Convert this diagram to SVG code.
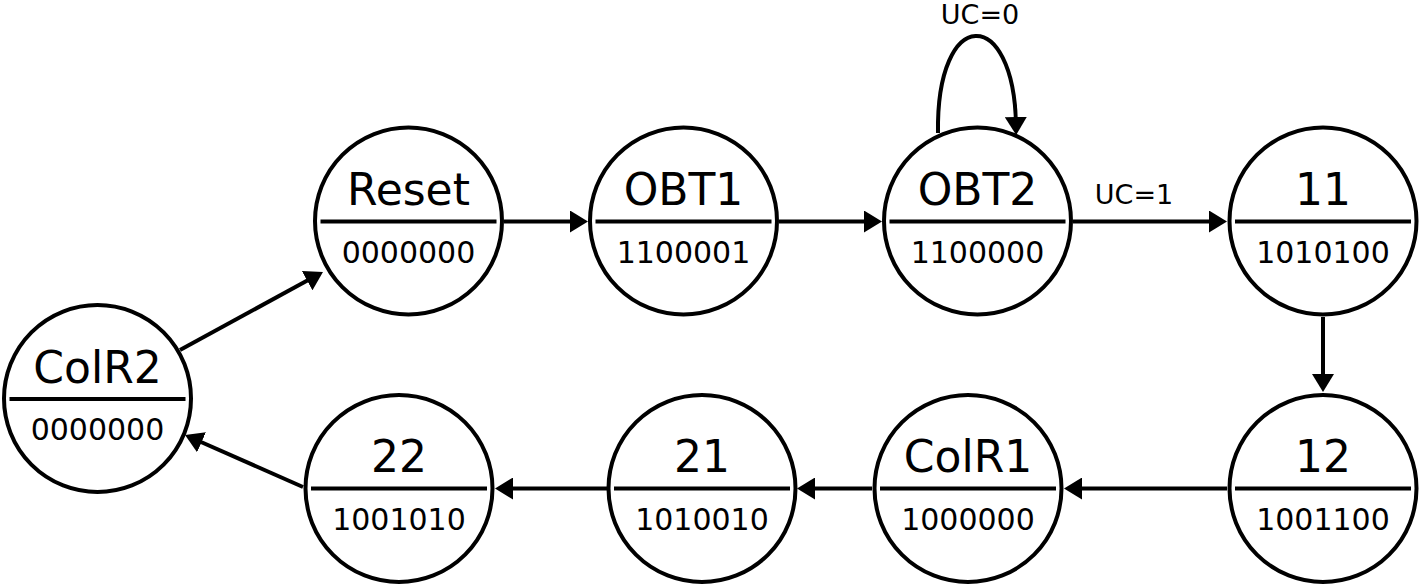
<svg xmlns="http://www.w3.org/2000/svg" width="1421" height="585" viewBox="0 0 1421 585">
<style>
.c{fill:#fff;stroke:#000;stroke-width:4}
.d{stroke:#000;stroke-width:4}
.t{font-family:"DejaVu Sans",sans-serif;font-size:44px;text-anchor:middle;fill:#000}
.n{font-family:"DejaVu Sans",sans-serif;font-size:30px;text-anchor:middle;fill:#000}
.l{font-family:"DejaVu Sans",sans-serif;font-size:27px;text-anchor:middle;fill:#000}
.e{fill:none;stroke:#000;stroke-width:4;marker-end:url(#a)}
</style>
<defs>
<marker id="a" markerUnits="userSpaceOnUse" markerWidth="18" markerHeight="22" refX="8" refY="11" orient="auto" viewBox="0 0 18 22">
<path d="M0,0 L18,11 L0,22 z" fill="#000"/>
</marker>
</defs>
<g id="connectors">
<path class="e" d="M504,221.5 L578,221.5"/>
<path class="e" d="M779,221.5 L872,221.5"/>
<path class="e" d="M1073,221.5 L1217,221.5"/>
<path class="e" d="M938,133 C936,5 1014,5 1016,125"/>
<path class="e" d="M1323,317 L1323,382"/>
<path class="e" d="M1227,488.5 L1074,488.5"/>
<path class="e" d="M872,488.5 L807,488.5"/>
<path class="e" d="M607,488.5 L505,488.5"/>
<path class="e" d="M303,487 L194.2,439"/>
<path class="e" d="M180,350 L314.2,276.8"/>
<text class="l" x="980" y="23.5">UC=0</text>
<text class="l" x="1134" y="204">UC=1</text>
</g>
<g id="ColR2">
<circle class="c" cx="97.5" cy="398.5" r="93.5"/>
<line class="d" x1="9.5" y1="399" x2="185.5" y2="399"/>
<text class="t" x="97.5" y="383">ColR2</text>
<text class="n" x="97.5" y="440">0000000</text>
</g>
<g id="Reset">
<circle class="c" cx="408.5" cy="221" r="93.5"/>
<line class="d" x1="320.5" y1="221.5" x2="496.5" y2="221.5"/>
<text class="t" x="408.5" y="205">Reset</text>
<text class="n" x="408.5" y="263">0000000</text>
</g>
<g id="OBT1">
<circle class="c" cx="683.5" cy="221" r="93.5"/>
<line class="d" x1="595.5" y1="221.5" x2="771.5" y2="221.5"/>
<text class="t" x="683.5" y="205">OBT1</text>
<text class="n" x="683.5" y="263">1100001</text>
</g>
<g id="OBT2">
<circle class="c" cx="977.5" cy="221" r="93.5"/>
<line class="d" x1="889.5" y1="221.5" x2="1065.5" y2="221.5"/>
<text class="t" x="977.5" y="205">OBT2</text>
<text class="n" x="977.5" y="263">1100000</text>
</g>
<g id="s11">
<circle class="c" cx="1323" cy="221" r="93.5"/>
<line class="d" x1="1235" y1="221.5" x2="1411" y2="221.5"/>
<text class="t" x="1323" y="205">11</text>
<text class="n" x="1323" y="263">1010100</text>
</g>
<g id="s12">
<circle class="c" cx="1323" cy="488.5" r="93.5"/>
<line class="d" x1="1235" y1="488.5" x2="1411" y2="488.5"/>
<text class="t" x="1323" y="472">12</text>
<text class="n" x="1323" y="530">1001100</text>
</g>
<g id="ColR1">
<circle class="c" cx="968" cy="488.5" r="93.5"/>
<line class="d" x1="880" y1="488.5" x2="1056" y2="488.5"/>
<text class="t" x="968" y="472">ColR1</text>
<text class="n" x="968" y="530">1000000</text>
</g>
<g id="s21">
<circle class="c" cx="702" cy="488.5" r="93.5"/>
<line class="d" x1="614" y1="488.5" x2="790" y2="488.5"/>
<text class="t" x="702" y="472">21</text>
<text class="n" x="702" y="530">1010010</text>
</g>
<g id="s22">
<circle class="c" cx="399" cy="488.5" r="93.5"/>
<line class="d" x1="311" y1="488.5" x2="487" y2="488.5"/>
<text class="t" x="399" y="472">22</text>
<text class="n" x="399" y="530">1001010</text>
</g>
</svg>
